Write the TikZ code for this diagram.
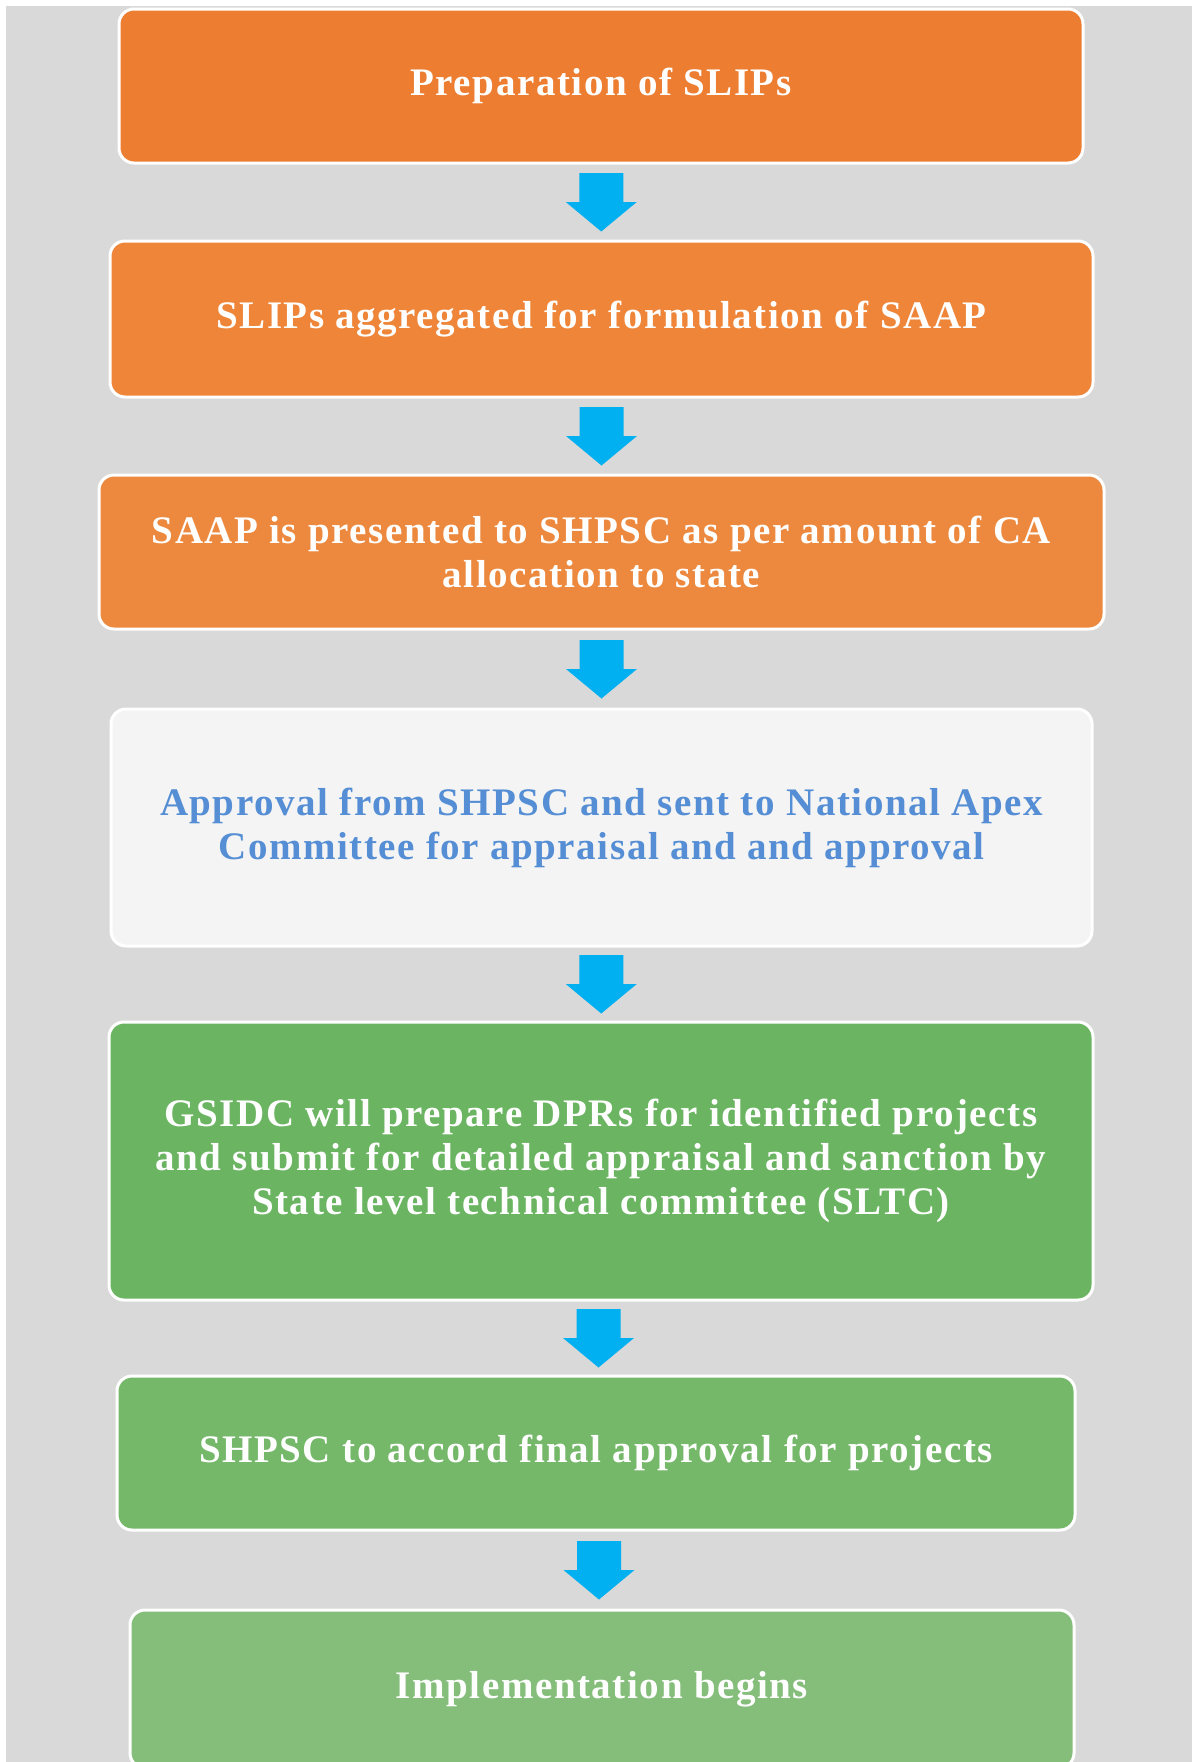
\documentclass[tikz,border=0pt]{standalone}
\usepackage{fontspec}
\setmainfont{Liberation Serif}
\newfontfamily\boxfont{Liberation Serif}[LetterSpace=4]
\usetikzlibrary{calc}
\definecolor{bggray}{HTML}{D9D9D9}
\definecolor{or1}{HTML}{ED7D31}
\definecolor{or2}{HTML}{EE8539}
\definecolor{or3}{HTML}{EC893F}
\definecolor{lgray}{HTML}{F4F4F4}
\definecolor{btext}{HTML}{558ED5}
\definecolor{gr1}{HTML}{6BB562}
\definecolor{gr2}{HTML}{75B86A}
\definecolor{gr3}{HTML}{84BE7A}
\definecolor{arrowblue}{HTML}{00B0F0}
\tikzset{
  flowbox/.style={draw=white, line width=3pt, rounded corners=15pt, inner sep=0pt,
    align=center, text=white, font=\boxfont\fontsize{39}{44}\selectfont\bfseries},
  blockarrow/.style={fill=arrowblue, draw=none},
}
\newcommand{\downblock}[1]{%
  \fill[blockarrow] ($(#1)+(-22,-29)$) -- ($(#1)+(22,-29)$) -- ($(#1)+(22,0)$) --
    ($(#1)+(35.5,0)$) -- ($(#1)+(0,29.5)$) -- ($(#1)+(-35.5,0)$) -- ($(#1)+(-22,0)$) -- cycle;}
\begin{document}
\begin{tikzpicture}[x=1pt,y=-1pt]
\useasboundingbox (0,0) rectangle (1192,1762);
\fill[white] (0,0) rectangle (1192,1762);
\fill[bggray] (6,6) rectangle (1192,1762);

\node[flowbox, fill=or1, minimum width=964pt, minimum height=154pt] (b1) at (601,86)
  {Preparation of SLIPs};
\node[flowbox, fill=or2, minimum width=983pt, minimum height=156pt] (b2) at (601.5,319)
  {SLIPs aggregated for formulation of SAAP};
\node[flowbox, fill=or3, minimum width=1005pt, minimum height=154pt] (b3) at (601.5,552)
  {SAAP is presented to SHPSC as per amount of CA\\allocation to state};
\node[flowbox, fill=lgray, text=btext, minimum width=981pt, minimum height=237pt] (b4) at (601.5,827.5)
  {Approval from SHPSC and sent to National Apex\\Committee for appraisal and and approval};
\node[flowbox, fill=gr1, minimum width=984pt, minimum height=278pt] (b5) at (601,1161)
  {GSIDC will prepare DPRs for identified projects\\and submit for detailed appraisal and sanction by\\State level technical committee (SLTC)};
\node[flowbox, fill=gr2, minimum width=958pt, minimum height=154pt] (b6) at (596,1453)
  {SHPSC to accord final approval for projects};
\node[flowbox, fill=gr3, minimum width=944pt, minimum height=158pt] (b7) at (602,1689)
  {Implementation begins};

\coordinate (m1) at ($(b1.south)!0.5!(b2.north)$);
\coordinate (m2) at ($(b2.south)!0.5!(b3.north)$);
\coordinate (m3) at ($(b3.south)!0.5!(b4.north)$);
\coordinate (m4) at ($(b4.south)!0.5!(b5.north)$);
\coordinate (m5) at ($(b5.south)!0.5!(b6.north)$);
\coordinate (m6) at ($(b6.south)!0.5!(b7.north)$);
\downblock{m1}
\downblock{m2}
\downblock{m3}
\downblock{m4}
\downblock{m5}
\downblock{m6}
\end{tikzpicture}
\end{document}
